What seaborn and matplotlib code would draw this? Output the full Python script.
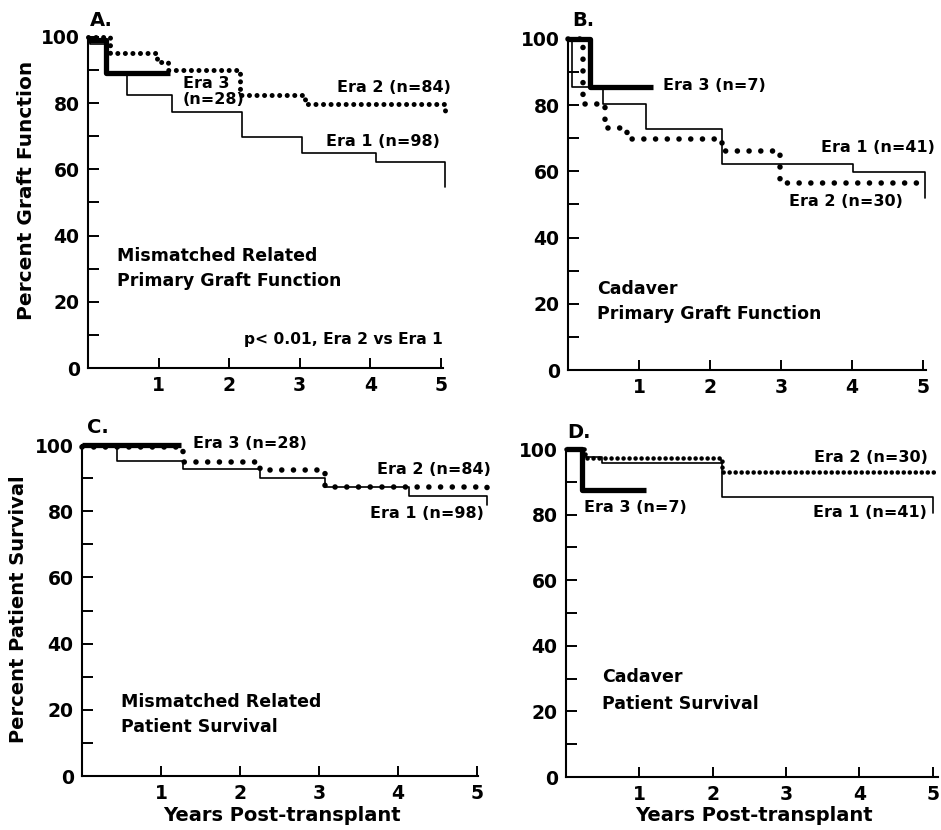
import matplotlib
matplotlib.use("Agg")
import matplotlib.pyplot as plt
import seaborn as sns
import pandas as pd

# ---------------- data ----------------
# Panel A: Mismatched related, primary graft function
A_era1_t = [0, 0.03, 0.27, 0.55, 1.19, 2.18, 3.03, 4.08, 5.06, 5.06]
A_era1_s = [100, 98, 88.5, 82.5, 77.3, 69.8, 65.0, 62.2, 62.2, 54.7]
A_era2_t = [0, 0.31, 0.98, 1.13, 2.15, 3.07, 5.06, 5.06]
A_era2_s = [100, 95.2, 92.5, 90.0, 82.5, 79.8, 79.8, 77.3]
A_era3_t = [0, 0.25, 1.16]
A_era3_s = [99, 89, 89]

# Panel B: Cadaver, primary graft function
B_era1_t = [0, 0.05, 0.49, 1.10, 2.17, 4.01, 5.03, 5.03]
B_era1_s = [100, 85.5, 80.4, 72.8, 62.2, 59.8, 59.8, 52.0]
B_era2_t = [0, 0.21, 0.52, 0.83, 2.17, 2.99, 4.99]
B_era2_s = [100, 80.5, 73.0, 69.8, 66.2, 56.5, 56.5]
B_era3_t = [0, 0.31, 1.2]
B_era3_s = [100, 85.5, 85.5]

# Panel C: Mismatched related, patient survival
C_era1_t = [0, 0.44, 1.28, 2.25, 3.08, 4.14, 5.13, 5.13]
C_era1_s = [100, 95.2, 92.7, 90.0, 87.3, 84.6, 84.6, 82.0]
C_era2_t = [0, 1.28, 2.25, 3.08, 5.13, 5.13]
C_era2_s = [99.4, 95.0, 92.4, 87.3, 87.3, 86.2]
C_era3_t = [0, 1.25]
C_era3_s = [100, 100]

# Panel D: Cadaver, patient survival
D_era1_t = [0, 0.2, 0.49, 2.12, 5.0, 5.0]
D_era1_s = [100, 97.5, 95.7, 85.4, 85.4, 80.5]
D_era2_t = [0, 0.26, 2.12, 5.05]
D_era2_s = [100, 97.3, 93.0, 93.0]
D_era3_t = [0, 0.22, 1.09]
D_era3_s = [100, 87.6, 87.6]

x_ticks = [1, 2, 3, 4, 5]
y_ticks = [0, 20, 40, 60, 80, 100]
y_minor = [10, 30, 50, 70, 90]

# ---------------- styling ----------------
sns.set_style("ticks")
plt.rcParams["font.family"] = ["DejaVu Sans"]
plt.rcParams["font.weight"] = "bold"
plt.rcParams["axes.linewidth"] = 1.5
for k in ["text.color", "axes.labelcolor", "xtick.color", "ytick.color", "axes.edgecolor"]:
    plt.rcParams[k] = "black"

W, H = 941, 830
fig = plt.figure(figsize=(W / 100, H / 100), dpi=100)


def add_ax(left, top, right, bottom, xmax):
    ax = fig.add_axes([left / W, 1 - bottom / H, (right - left) / W, (bottom - top) / H])
    ax.set_xlim(0, xmax)
    ax.set_ylim(0, 100)
    ax.set_xticks(x_ticks)
    ax.set_xticklabels([str(v) for v in x_ticks])
    ax.set_yticks(y_ticks)
    ax.set_yticklabels([str(v) for v in y_ticks])
    ax.set_yticks(y_minor, minor=True)
    ax.tick_params(axis="y", which="both", direction="in", length=8, width=1.4,
                   labelsize=13.5, pad=6, colors="black")
    ax.tick_params(axis="x", which="both", direction="in", length=7, width=1.4,
                   labelsize=13.5, pad=6, colors="black")
    for lab in ax.get_xticklabels() + ax.get_yticklabels():
        lab.set_fontweight("bold")
    sns.despine(ax=ax)
    ax.set_xlabel("")
    ax.set_ylabel("")
    return ax


def curve(ax, t, s, kind, dot_lw=3.6, gap=1.7):
    df = pd.DataFrame({"t": t, "s": s})
    if kind == 1:
        kw = dict(linewidth=1.2, linestyle="-", zorder=3)
    elif kind == 2:
        kw = dict(linewidth=dot_lw, linestyle=(0, (0.01, gap)),
                  dash_capstyle="round", zorder=4)
    else:
        kw = dict(linewidth=3.8, linestyle="-", solid_capstyle="butt", zorder=5)
    sns.lineplot(data=df, x="t", y="s", ax=ax, estimator=None, sort=False,
                 drawstyle="steps-post", color="black", clip_on=False, **kw)
    ax.set_xlabel("")
    ax.set_ylabel("")


def ftext(x, y, s, size=11.5, ha="left", va="center", rot=0):
    fig.text(x / W, 1 - y / H, s, fontsize=size, fontweight="bold", ha=ha, va=va,
             rotation=rot, linespacing=1.25, color="black")


# Panel A
axA = add_ax(88, 37, 443, 368, 5.03)
curve(axA, A_era1_t, A_era1_s, 1)
curve(axA, A_era2_t, A_era2_s, 2, dot_lw=3.6, gap=1.5)
curve(axA, A_era3_t, A_era3_s, 3)

# Panel B
axB = add_ax(568, 39, 926, 370, 5.04)
curve(axB, B_era1_t, B_era1_s, 1)
curve(axB, B_era2_t, B_era2_s, 2, dot_lw=4.0, gap=2.1)
curve(axB, B_era3_t, B_era3_s, 3)

# Panel C
axC = add_ax(82, 445, 478, 776, 5.01)
curve(axC, C_era1_t, C_era1_s, 1)
curve(axC, C_era2_t, C_era2_s, 2, dot_lw=4.0, gap=2.1)
curve(axC, C_era3_t, C_era3_s, 3)

# Panel D
axD = add_ax(566, 449, 938, 777, 5.07)
curve(axD, D_era1_t, D_era1_s, 1)
curve(axD, D_era2_t, D_era2_s, 2, dot_lw=3.3, gap=1.3)
curve(axD, D_era3_t, D_era3_s, 3)

# ---------------- texts ----------------
# panel letters
ftext(90, 20, "A.", size=14)
ftext(572, 20, "B.", size=14)
ftext(87, 427, "C.", size=14)
ftext(567, 432, "D.", size=14)

# axis titles
ftext(27, 190, "Percent Graft Function", size=14.5, ha="center", rot=90)
ftext(19, 609, "Percent Patient Survival", size=14, ha="center", rot=90)
ftext(282, 815, "Years Post-transplant", size=14, ha="center")
ftext(754, 815, "Years Post-transplant", size=14, ha="center")

# Panel A labels
ftext(183, 83, "Era 3")
ftext(183, 100, "(n=28)")
ftext(451, 88, "Era 2 (n=84)", ha="right")
ftext(440, 142, "Era 1 (n=98)", ha="right")
ftext(117, 256, "Mismatched Related", size=12.5)
ftext(117, 281, "Primary Graft Function", size=12.5)
ftext(443, 339, "p< 0.01, Era 2 vs Era 1", ha="right", size=11.2)

# Panel B labels
ftext(663, 85, "Era 3 (n=7)")
ftext(935, 148, "Era 1 (n=41)", ha="right")
ftext(903, 201, "Era 2 (n=30)", ha="right")
ftext(597, 289, "Cadaver", size=12.5)
ftext(597, 314, "Primary Graft Function", size=12.5)

# Panel C labels
ftext(193, 443, "Era 3 (n=28)")
ftext(491, 469, "Era 2 (n=84)", ha="right")
ftext(484, 513, "Era 1 (n=98)", ha="right")
ftext(121, 702, "Mismatched Related", size=12.5)
ftext(121, 727, "Patient Survival", size=12.5)

# Panel D labels
ftext(928, 457, "Era 2 (n=30)", ha="right")
ftext(584, 508, "Era 3 (n=7)")
ftext(927, 512, "Era 1 (n=41)", ha="right")
ftext(602, 677, "Cadaver", size=12.5)
ftext(602, 704, "Patient Survival", size=12.5)

fig.savefig("out.png", dpi=100, facecolor="white")
